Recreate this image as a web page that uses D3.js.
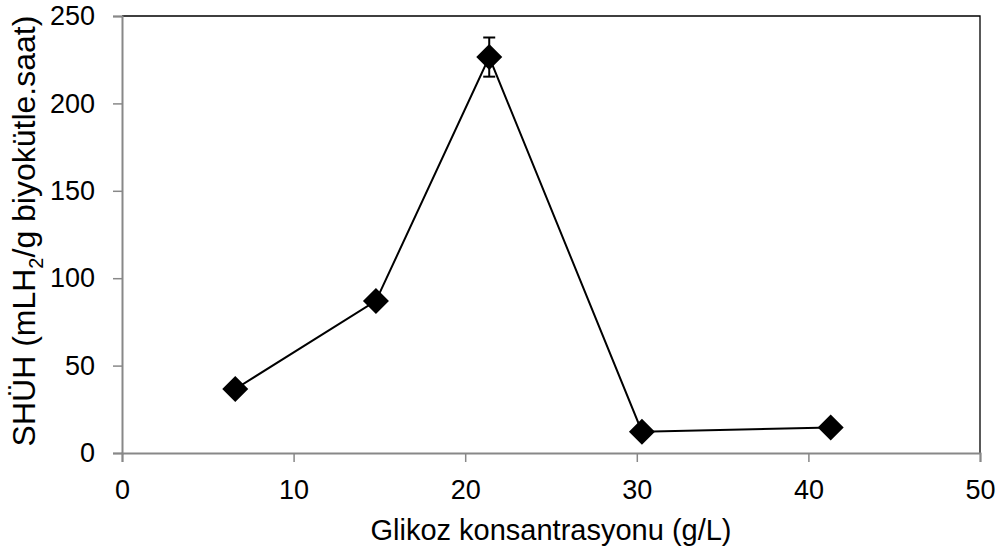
<!DOCTYPE html>
<html>
<head>
<meta charset="utf-8">
<script src="https://cdn.jsdelivr.net/npm/d3@7"></script>
<style>
  html, body { margin: 0; padding: 0; background: #fff; }
  svg { display: block; }
  text { font-family: "Liberation Sans", Arial, sans-serif; fill: #000; }
</style>
</head>
<body>
<svg id="chart" width="1001" height="552"></svg>
<script>
// Glucose concentration (g/L)
const glucose = [6.6, 14.8, 21.4, 30.3, 41.3];
// Specific hydrogen production rate (mL H2 / g biomass·h)
const rate = [36.6, 87.0, 226.5, 12.2, 14.6];
// Standard deviation (only the peak point has a visible bar)
const errors = [0, 0, 11.2, 0, 0];

const xTicks = [0, 10, 20, 30, 40, 50];
const yTicks = [0, 50, 100, 150, 200, 250];

const margin = { left: 122, right: 21, top: 16, bottom: 99 };
const W = 1001, H = 552;

const svg = d3.select("#chart");

const x = d3.scaleLinear().domain([0, 50]).range([margin.left, W - margin.right]);
const y = d3.scaleLinear().domain([0, 250]).range([H - margin.bottom, margin.top]);

// frame: top and right edges
svg.append("path")
  .attr("d", `M${x(0)},${y(250)}H${x(50)}V${y(0)}`)
  .attr("fill", "none").attr("stroke", "#000").attr("stroke-width", 1.3);

const tickFont = "27px";

const xAxis = svg.append("g")
  .attr("transform", `translate(0,${y(0)})`)
  .call(d3.axisBottom(x).tickValues(xTicks).tickSize(9).tickPadding(18).tickFormat(d3.format("d")));
const yAxis = svg.append("g")
  .attr("transform", `translate(${x(0)},0)`)
  .call(d3.axisLeft(y).tickValues(yTicks).tickSize(9).tickPadding(18).tickFormat(d3.format("d")));

[xAxis, yAxis].forEach(g => {
  g.select(".domain").attr("stroke", "#888").attr("stroke-width", 2);
  g.selectAll(".tick line").attr("stroke", "#888").attr("stroke-width", 1.5);
  g.selectAll(".tick text").attr("font-size", tickFont)
    .attr("font-family", "'Liberation Sans', Arial, sans-serif").attr("fill", "#000");
});

const pts = glucose.map((g, i) => ({ x: g, y: rate[i], e: errors[i] }));

// connecting line
svg.append("path")
  .datum(pts)
  .attr("fill", "none").attr("stroke", "#000").attr("stroke-width", 2)
  .attr("d", d3.line().x(d => x(d.x)).y(d => y(d.y)));

// error bars
const eb = svg.append("g").selectAll("g").data(pts.filter(d => d.e > 0)).join("g");
eb.append("line")
  .attr("x1", d => x(d.x)).attr("x2", d => x(d.x))
  .attr("y1", d => y(d.y + d.e)).attr("y2", d => y(d.y - d.e))
  .attr("stroke", "#000").attr("stroke-width", 2);
eb.selectAll("line.cap").data(d => [[d.x, d.y + d.e], [d.x, d.y - d.e]]).join("line")
  .attr("class", "cap")
  .attr("x1", d => x(d[0]) - 6).attr("x2", d => x(d[0]) + 6)
  .attr("y1", d => y(d[1])).attr("y2", d => y(d[1]))
  .attr("stroke", "#000").attr("stroke-width", 2);

// diamond markers
const r = 13;
svg.append("g").selectAll("path").data(pts).join("path")
  .attr("d", d => {
    const cx = x(d.x), cy = y(d.y);
    return `M${cx},${cy - r}L${cx + r},${cy}L${cx},${cy + r}L${cx - r},${cy}Z`;
  })
  .attr("fill", "#000");

// axis titles
svg.append("text")
  .attr("x", (x(0) + x(50)) / 2).attr("y", 540)
  .attr("text-anchor", "middle").attr("font-size", "29px")
  .text("Glikoz konsantrasyonu (g/L)");

const yt = svg.append("text")
  .attr("transform", `translate(35,231) rotate(-90)`)
  .attr("text-anchor", "middle").attr("font-size", "32px");
yt.append("tspan").text("SHÜH (mLH");
yt.append("tspan").attr("font-size", "20px").attr("dy", 8).text("2");
yt.append("tspan").attr("dy", -8).text("/g biyokütle.saat)");
</script>
</body>
</html>
